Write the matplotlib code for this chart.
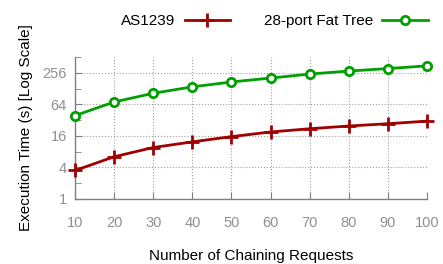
import matplotlib
matplotlib.use("Agg")
import matplotlib.pyplot as plt
from matplotlib.ticker import FixedLocator, NullFormatter

plt.rcParams['font.family'] = ['Liberation Sans', 'DejaVu Sans']

# data
requests = [10, 20, 30, 40, 50, 60, 70, 80, 90, 100]
as1239 = [3.5, 6.4, 9.6, 12.3, 15.5, 19.0, 21.9, 24.7, 27.3, 30.6]
fat_tree = [39, 71, 104, 138, 171, 203, 242, 276, 308, 347]
y_major = [1, 4, 16, 64, 256]
y_minor = [2, 8, 32, 128, 512]

fig = plt.figure(figsize=(4.43, 2.64), dpi=100)
ax = fig.add_axes([75 / 443, 1 - 199 / 264, 352 / 443, 142 / 264])

l1, = ax.plot(requests, as1239, color='#a00000', lw=2, marker='+', ms=10, mew=2,
              label='AS1239', clip_on=False, zorder=3)
l2, = ax.plot(requests, fat_tree, color='#00a000', lw=2, marker='o', ms=6, mew=2,
              mfc='white', label='28-port Fat Tree', clip_on=False, zorder=3)

ax.set_yscale('log', base=2)
ax.set_xlim(10, 100)
ax.set_ylim(1, 512)
ax.yaxis.set_major_locator(FixedLocator(y_major))
ax.yaxis.set_minor_locator(FixedLocator(y_minor))
ax.yaxis.set_minor_formatter(NullFormatter())
ax.set_yticklabels([str(v) for v in y_major])
ax.set_xticks(requests)

ax.grid(True, which='major', color='#a0a0a0', ls=':', lw=0.8)
for s in ['top', 'right']:
    ax.spines[s].set_visible(False)
for s in ['left', 'bottom']:
    ax.spines[s].set_color('#808080')
    ax.spines[s].set_linewidth(1)

ax.tick_params(which='both', direction='in', colors='#808080', labelcolor='#909090',
               labelsize=10.5)
ax.tick_params(which='major', length=5)
ax.tick_params(which='minor', length=4)
ax.tick_params(axis='x', pad=12)
ax.tick_params(axis='y', pad=6)

ax.set_xlabel('Number of Chaining Requests', fontsize=11, labelpad=14)
ax.set_ylabel('Execution Time (s) [Log Scale]', fontsize=11, labelpad=7)

fig.legend(handles=[l1, l2], loc='center', bbox_to_anchor=(0.62, 0.92), ncol=2,
           frameon=False, markerfirst=False, fontsize=11, handlelength=3,
           columnspacing=2.2, handletextpad=0.6)

fig.savefig('out.png', dpi=100)
